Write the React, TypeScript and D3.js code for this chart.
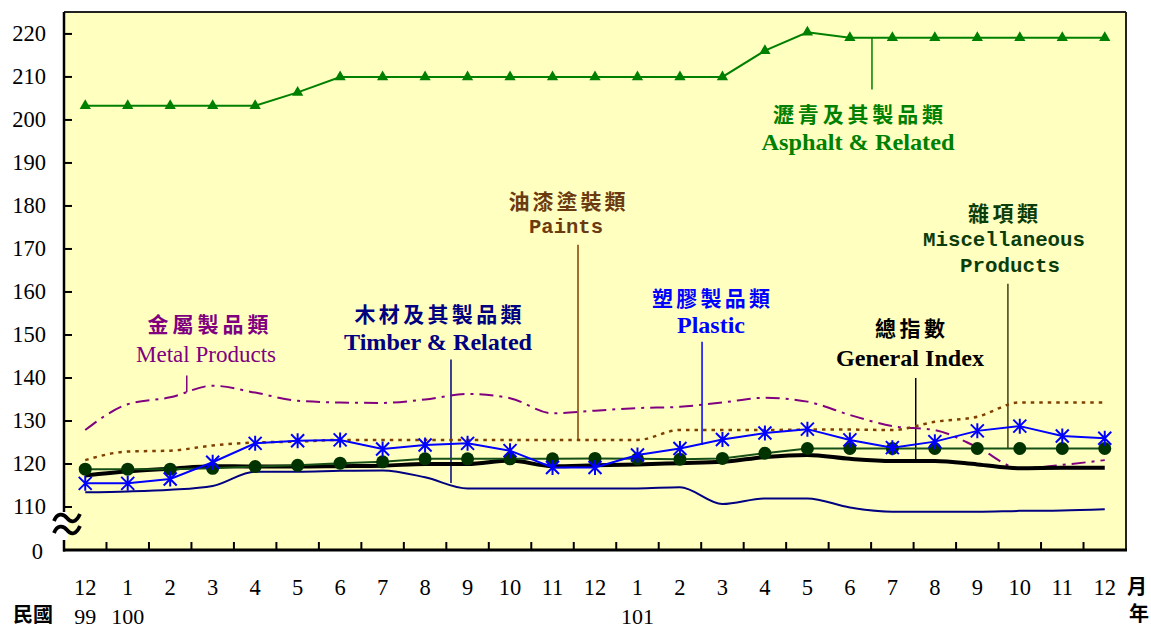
import React from 'react'
import * as d3 from 'd3'

// 月份 (民國99年12月 ~ 101年12月)
const months = ['12', '1', '2', '3', '4', '5', '6', '7', '8', '9', '10', '11', '12',
  '1', '2', '3', '4', '5', '6', '7', '8', '9', '10', '11', '12']
const yearLabels = ['99', '100', '', '', '', '', '', '', '', '', '', '', '',
  '101', '', '', '', '', '', '', '', '', '', '', '']
const yTicks = [110, 120, 130, 140, 150, 160, 170, 180, 190, 200, 210, 220]

const asphalt = [203.3, 203.3, 203.3, 203.3, 203.3, 206.4, 210.0, 210.0, 210.0, 210.0, 210.0, 210.0, 210.0,
  210.0, 210.0, 210.0, 216.1, 220.4, 219.1, 219.1, 219.1, 219.1, 219.1, 219.1, 219.1]
const metal = [127.9, 133.9, 135.5, 138.2, 136.6, 134.7, 134.3, 134.2, 135.0, 136.3, 135.3, 131.8, 132.4,
  133.0, 133.3, 134.3, 135.4, 134.5, 131.4, 128.8, 127.9, 123.9, 119.0, 119.8, 120.9]
const paints = [120.9, 122.9, 123.1, 124.3, 125.0, 125.2, 125.6, 125.6, 125.6, 125.6, 125.6, 125.6, 125.6,
  125.6, 127.9, 127.9, 127.9, 128.0, 128.0, 127.9, 129.8, 131.0, 134.3, 134.3, 134.3]
const timber = [113.4, 113.6, 114.0, 114.9, 118.2, 118.2, 118.4, 118.5, 116.9, 114.3, 114.3, 114.3, 114.3,
  114.3, 114.6, 110.7, 112.0, 112.0, 109.9, 108.9, 108.9, 108.9, 109.1, 109.2, 109.5]
const plastic = [115.5, 115.5, 116.5, 120.4, 124.8, 125.4, 125.6, 123.5, 124.4, 124.8, 123.1, 119.2, 119.2,
  122.1, 123.6, 125.7, 127.2, 128.1, 125.6, 123.8, 125.2, 127.7, 128.8, 126.5, 126.0]
const misc = [118.8, 118.8, 118.8, 119.0, 119.4, 119.7, 120.2, 120.5, 121.2, 121.2, 121.2, 121.2, 121.3,
  121.2, 121.1, 121.3, 122.5, 123.6, 123.6, 123.6, 123.6, 123.6, 123.6, 123.6, 123.6]
const general = [117.3, 118.3, 118.9, 119.5, 119.4, 119.4, 119.5, 119.6, 120.0, 120.0, 120.8, 119.5, 119.7,
  119.9, 120.2, 120.5, 121.6, 122.1, 121.2, 120.7, 120.7, 119.9, 119.0, 119.1, 119.1]

// 標籤引線 (index 位置, 上端值, 下端值)
const leaders = [
  { i: 18.52, top: 219.1, bottom: 207.1, color: '#008000' },
  { i: 11.6, top: 171.0, bottom: 125.8, color: '#804000' },
  { i: 2.39, top: 140.6, bottom: 136.7, color: '#800080' },
  { i: 8.61, top: 144.3, bottom: 115.6, color: '#000080' },
  { i: 14.52, top: 148.4, bottom: 124.4, color: '#0000ff' },
  { i: 19.55, top: 140.0, bottom: 120.9, color: '#000000' },
  { i: 21.72, top: 161.9, bottom: 123.7, color: '#3d3d1a' }
]

const cjk = '"Noto Sans CJK TC", "Noto Sans CJK SC", sans-serif'
const serif = '"Liberation Serif", "Times New Roman", serif'
const mono = '"Liberation Mono", "DejaVu Sans Mono", monospace'

const labels = [
  { text: '瀝青及其製品類', x: 858, y: 113, w: 170, color: '#008000', font: cjk, size: 21 },
  { text: 'Asphalt & Related', x: 858, y: 142, w: 193, color: '#008000', font: serif, size: 24 },
  { text: '油漆塗裝類', x: 567, y: 200, w: 117, color: '#6b3a10', font: cjk, size: 21 },
  { text: 'Paints', x: 566, y: 227, w: 74, color: '#6b3a10', font: mono, size: 21 },
  { text: '金屬製品類', x: 208, y: 323, w: 121, color: '#800080', font: cjk, size: 21 },
  { text: 'Metal Products', x: 206, y: 354, w: 140, color: '#800080', font: serif, size: 24, normal: true },
  { text: '木材及其製品類', x: 438, y: 313, w: 167, color: '#000080', font: cjk, size: 21 },
  { text: 'Timber & Related', x: 438, y: 342, w: 188, color: '#000080', font: serif, size: 24 },
  { text: '塑膠製品類', x: 711, y: 297, w: 118, color: '#0000ff', font: cjk, size: 21 },
  { text: 'Plastic', x: 711, y: 325, w: 68, color: '#0000ff', font: serif, size: 24 },
  { text: '總指數', x: 910, y: 327, w: 70, color: '#000000', font: cjk, size: 21 },
  { text: 'General Index', x: 910, y: 358, w: 148, color: '#000000', font: serif, size: 24 },
  { text: '雜項類', x: 1003, y: 212, w: 70, color: '#0a3d0a', font: cjk, size: 21 },
  { text: 'Miscellaneous', x: 1004, y: 240, w: 162, color: '#0a3d0a', font: mono, size: 21 },
  { text: 'Products', x: 1010, y: 266, w: 100, color: '#0a3d0a', font: mono, size: 21 }
]

const W = 1151
const H = 628
const left = 64
const right = 1126
const top = 12
const bottom = 550

const App: React.FC = () => {
  const x = d3.scaleBand<number>().domain(d3.range(months.length)).range([left, right])
  const bw = x.bandwidth()
  const cx = (i: number) => left + bw * (i + 0.5)
  const y = d3.scaleLinear().domain([100, 225.1]).range([bottom, top])

  const lineOf = (vals: number[], curve: d3.CurveFactory = d3.curveLinear) =>
    d3.line<number>().x((_, i) => cx(i)).y(v => y(v)).curve(curve)(vals) || ''

  const tri = d3.symbol().type(d3.symbolTriangle).size(55)() || ''
  const star = 'M-6.5,-6.5L6.5,6.5M-6.5,6.5L6.5,-6.5M0,-7.5L0,7.5'

  return (
    <svg width={W} height={H} style={{ position: 'absolute', left: 0, top: 0, display: 'block' }}>
      <rect x={0} y={0} width={W} height={H} fill="#ffffff" />
      <rect x={left} y={top} width={right - left} height={bottom - top} fill="#ffffc0" />

      {/* 引線 */}
      {leaders.map((d, k) => (
        <line key={k} x1={cx(d.i)} x2={cx(d.i)} y1={y(d.top)} y2={y(d.bottom)}
          stroke={d.color} strokeWidth={1.5} />
      ))}

      {/* 折線 */}
      <path d={lineOf(metal, d3.curveMonotoneX)} fill="none" stroke="#800080" strokeWidth={2}
        strokeDasharray="14,6,3,6" />
      <path d={lineOf(paints, d3.curveMonotoneX)} fill="none" stroke="#804000" strokeWidth={2.5}
        strokeDasharray="3.5,5" />
      <path d={lineOf(timber, d3.curveMonotoneX)} fill="none" stroke="#000080" strokeWidth={2} />
      <path d={lineOf(asphalt)} fill="none" stroke="#008000" strokeWidth={2} />
      {asphalt.map((v, i) => (
        <path key={i} d={tri} transform={`translate(${cx(i)},${y(v)})`} fill="#008000" />
      ))}
      <path d={lineOf(general, d3.curveMonotoneX)} fill="none" stroke="#000000" strokeWidth={4} />
      <path d={lineOf(misc)} fill="none" stroke="#175017" strokeWidth={2} />
      {misc.map((v, i) => (
        <circle key={i} cx={cx(i)} cy={y(v)} r={6.5} fill="#003300" />
      ))}
      <path d={lineOf(plastic)} fill="none" stroke="#0000ff" strokeWidth={2} />
      {plastic.map((v, i) => (
        <path key={i} d={star} transform={`translate(${cx(i)},${y(v)})`} stroke="#0000ff"
          strokeWidth={2} fill="none" />
      ))}

      {/* 標籤 */}
      {labels.map((d, k) => (
        <text key={k} x={d.x} y={d.y} textAnchor="middle" dominantBaseline="central"
          fill={d.color} fontFamily={d.font} fontSize={d.size}
          fontWeight={d.normal ? 'normal' : 'bold'}
          textLength={d.w} lengthAdjust={d.font === cjk ? 'spacing' : 'spacingAndGlyphs'}>
          {d.text}
        </text>
      ))}

      {/* 框線 */}
      <line x1={left} x2={right} y1={top} y2={top} stroke="#222" strokeWidth={2} />
      <line x1={right} x2={right} y1={top} y2={bottom} stroke="#222" strokeWidth={2} />
      <line x1={left} x2={left} y1={top} y2={bottom + 1.5} stroke="#000" strokeWidth={2.5} />
      <line x1={left - 1} x2={right + 1} y1={bottom} y2={bottom} stroke="#000" strokeWidth={3} />

      {/* Y 軸刻度 */}
      {yTicks.map(t => (
        <g key={t}>
          <line x1={left} x2={left + 8} y1={y(t)} y2={y(t)} stroke="#000" strokeWidth={2} />
          <text x={46} y={y(t)} textAnchor="end" dominantBaseline="central" fontFamily={serif}
            fontSize={22.5}>{t}</text>
        </g>
      ))}
      <text x={43} y={bottom + 1} textAnchor="end" dominantBaseline="central" fontFamily={serif}
        fontSize={22.5}>0</text>

      {/* 斷軸符號 */}
      <rect x={left - 4} y={512} width={8} height={28} fill="#ffffff" />
      {[0, 12].map(dy => (
        <path key={dy}
          d={`M54,${521 + dy} C57,${513 + dy} 63,${513 + dy} 67,${518 + dy} S76,${523 + dy} 80,${514 + dy}`}
          fill="none" stroke="#000" strokeWidth={3.8} />
      ))}

      {/* X 軸刻度 */}
      {months.slice(1).map((_, k) => {
        const xx = (x(k + 1) as number)
        return <line key={k} x1={xx} x2={xx} y1={bottom} y2={bottom - 8} stroke="#000" strokeWidth={2} />
      })}
      {months.map((m, i) => (
        <text key={i} x={cx(i)} y={587} textAnchor="middle" dominantBaseline="central"
          fontFamily={serif} fontSize={22.5}>{m}</text>
      ))}
      {yearLabels.map((m, i) => m ? (
        <text key={i} x={cx(i)} y={616} textAnchor="middle" dominantBaseline="central"
          fontFamily={serif} fontSize={22}>{m}</text>
      ) : null)}
      <text x={33} y={613} textAnchor="middle" dominantBaseline="central" fontFamily={cjk}
        fontSize={20} fontWeight="bold">民國</text>
      <text x={1137} y={585} textAnchor="middle" dominantBaseline="central" fontFamily={cjk}
        fontSize={20} fontWeight="bold">月</text>
      <text x={1139} y={612} textAnchor="middle" dominantBaseline="central" fontFamily={cjk}
        fontSize={20} fontWeight="bold">年</text>
    </svg>
  )
}

export default App
